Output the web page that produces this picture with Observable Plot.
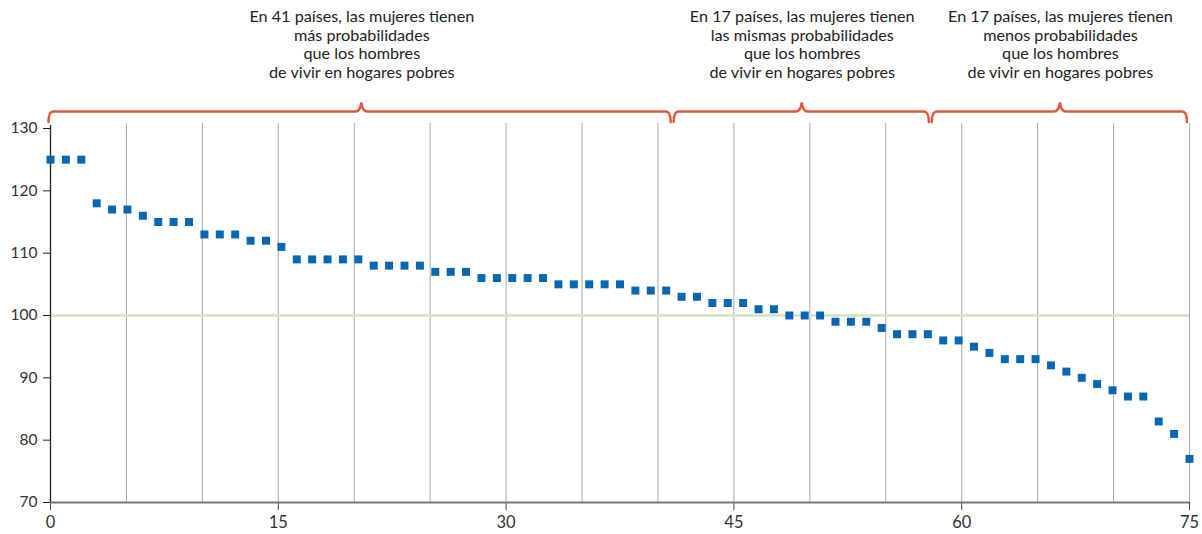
<!DOCTYPE html>
<html>
<head>
<meta charset="utf-8">
<script src="https://cdn.jsdelivr.net/npm/d3@7"></script>
<script src="https://cdn.jsdelivr.net/npm/@observablehq/plot@0.6"></script>
<style>
  html, body { margin: 0; padding: 0; background: #fff; }
  #chart { width: 1202px; height: 534px; }
</style>
</head>
<body>
<div id="chart"></div>
<script>
// Ratio of women to men in poor households, 75 countries, sorted descending
const values = [125,125,125,118,117,117,116,115,115,115,113,113,113,112,112,111,
  109,109,109,109,109,108,108,108,108,107,107,107,106,106,106,106,106,
  105,105,105,105,105,104,104,104,103,103,102,102,102,101,101,100,100,100,
  99,99,99,98,97,97,97,96,96,95,94,93,93,93,92,91,90,89,88,87,87,83,81,77];

const groupCounts = [41, 17, 17];
const groupLabels = [
  "En 41 países, las mujeres tienen\nmás probabilidades\nque los hombres\nde vivir en hogares pobres",
  "En 17 países, las mujeres tienen\nlas mismas probabilidades\nque los hombres\nde vivir en hogares pobres",
  "En 17 países, las mujeres tienen\nmenos probabilidades\nque los hombres\nde vivir en hogares pobres"
];

const xTicks = [0, 15, 30, 45, 60, 75];
const yTicks = [70, 80, 90, 100, 110, 120, 130];
const xGrid = [5, 10, 15, 20, 25, 30, 35, 40, 45, 50, 55, 60, 65, 70, 75];
const parity = 100;

// Build group spans from cumulative counts
let acc = 0;
const groups = groupCounts.map((c, i) => {
  const start = acc; acc += c;
  return {start, end: acc, mid: (start + acc) / 2, label: groupLabels[i]};
});

const n = values.length;
const xMax = xTicks[xTicks.length - 1];
const pts = values.map((v, i) => ({x: i * xMax / (n - 1), y: v}));

const plot = Plot.plot({
  width: 1202,
  height: 534,
  marginLeft: 50,
  marginRight: 13,
  marginTop: 128,
  marginBottom: 32,
  style: {fontFamily: "Lato, 'Open Sans', sans-serif", color: "#222", background: "#fff"},
  x: {domain: [0, xMax]},
  y: {domain: [70, 130]},
  marks: [
    Plot.ruleX(xGrid, {y1: 70, y2: 130.8, stroke: "#a9a9a9", strokeWidth: 1}),
    Plot.ruleY([parity], {stroke: "#d4e2bd", strokeWidth: 2.5}),
    Plot.axisY({ticks: yTicks, tickSize: 7, tickPadding: 6, fontSize: 15.5, label: null, stroke: "#222", fill: "#333"}),
    Plot.axisX({ticks: xTicks, tickSize: 8, tickPadding: 6, fontSize: 16.5, label: null, stroke: "#444", fill: "#333"}),
    Plot.ruleY([70], {stroke: "#777", strokeWidth: 2}),
    Plot.ruleX([0], {y1: 70, y2: 130.5, stroke: "#222", strokeWidth: 1.3}),
    Plot.dot(pts, {x: "x", y: "y", symbol: "square", r: 4.5, fill: "#0767b2", stroke: "none"}),
    Plot.text(groups, {x: "mid", y: 130, text: "label", dy: -119.5, lineAnchor: "top",
      lineHeight: 1.15, fontSize: 16.2, fill: "#222"})
  ]
});

// Curly braces above each group, positioned with the plot's own scales
const X = plot.scale("x"), Y = plot.scale("y");
const yBase = Y.apply(130);
const yTop = yBase - 16.5, yEnd = yBase - 6, yPeak = yBase - 25.5;
const svg = d3.select(plot.tagName.toLowerCase() === "svg" ? plot : plot.querySelector("svg"));
groups.forEach((g, i) => {
  const x0 = X.apply(g.start) + (i === 0 ? -1.5 : 1);
  const x1 = X.apply(g.end) - 2;
  const xm = X.apply(g.mid);
  const r = 5;
  const p = d3.path();
  p.moveTo(x0, yEnd);
  p.quadraticCurveTo(x0, yTop, x0 + r, yTop);
  p.lineTo(xm - 6, yTop);
  p.quadraticCurveTo(xm - 1, yTop, xm, yPeak);
  p.quadraticCurveTo(xm + 1, yTop, xm + 6, yTop);
  p.lineTo(x1 - r, yTop);
  p.quadraticCurveTo(x1, yTop, x1, yEnd);
  svg.append("path").attr("d", p.toString()).attr("fill", "none")
    .attr("stroke", "#e0593b").attr("stroke-width", 2.5).attr("stroke-linecap", "round");
});

document.getElementById("chart").appendChild(plot);
</script>
</body>
</html>
